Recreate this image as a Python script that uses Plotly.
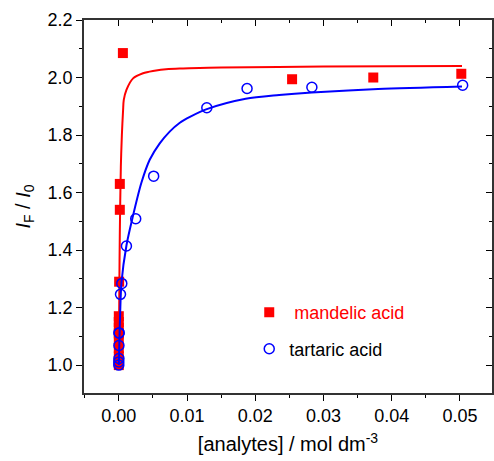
import plotly.graph_objects as go

# ---- data ----
mandelic_x = [0.0, 0.0, 0.0, 0.0, 0.0, 0.0, 0.0, 0.0, 0.00005, 0.00015, 0.00015, 0.0006, 0.0254, 0.0373, 0.0502]
mandelic_y = [1.00, 1.03, 1.06, 1.09, 1.11, 1.13, 1.15, 1.17, 1.29, 1.54, 1.63, 2.085, 1.994, 2.000, 2.013]

tartaric_x = [0.0, 0.0, 0.00002, 0.00002, 0.00004, 0.00004, 0.00025, 0.00044, 0.00112, 0.00248, 0.00511, 0.0129, 0.0188, 0.0283, 0.0504]
tartaric_y = [1.000, 1.011, 1.023, 1.068, 1.112, 1.112, 1.246, 1.284, 1.414, 1.509, 1.657, 1.895, 1.962, 1.966, 1.973]

mandelic_fit_x = [0.0, 0.00008, 0.00015, 0.0003, 0.00045, 0.00063, 0.00073, 0.00112, 0.00209, 0.00355, 0.005, 0.0073, 0.0089, 0.015, 0.03, 0.0503]
mandelic_fit_y = [1.0, 1.27, 1.46, 1.69, 1.80, 1.887, 1.922, 1.957, 1.997, 2.015, 2.023, 2.030, 2.031, 2.035, 2.038, 2.040]

tartaric_fit_x = [0.0, 0.0001, 0.0002, 0.00039, 0.00112, 0.002, 0.0033, 0.00453, 0.006, 0.00746, 0.0089, 0.0105, 0.0129, 0.0186, 0.0235, 0.0283, 0.038, 0.0503]
tartaric_fit_y = [1.0, 1.10, 1.18, 1.287, 1.416, 1.511, 1.633, 1.714, 1.771, 1.812, 1.842, 1.864, 1.890, 1.926, 1.939, 1.948, 1.960, 1.969]

x_ticks = [0.00, 0.01, 0.02, 0.03, 0.04, 0.05]
y_ticks = [1.0, 1.2, 1.4, 1.6, 1.8, 2.0, 2.2]

RED = "#ff0000"
BLUE = "#0000ff"
FONT = "Liberation Sans, Arial, sans-serif"

fig = go.Figure()
fig.add_trace(go.Scatter(
    x=mandelic_x, y=mandelic_y, mode="markers",
    marker=dict(symbol="square", size=10, color=RED),
    name="<span style='color:#ff0000'> mandelic acid</span>",
    legendgroup="m"))
fig.add_trace(go.Scatter(
    x=mandelic_fit_x, y=mandelic_fit_y, mode="lines",
    line=dict(color=RED, width=2, shape="spline", smoothing=0.8),
    showlegend=False, legendgroup="m"))
fig.add_trace(go.Scatter(
    x=tartaric_fit_x, y=tartaric_fit_y, mode="lines",
    line=dict(color=BLUE, width=2, shape="spline", smoothing=0.8),
    showlegend=False, legendgroup="t"))
fig.add_trace(go.Scatter(
    x=tartaric_x, y=tartaric_y, mode="markers",
    marker=dict(symbol="circle-open", size=10, color=BLUE, line=dict(width=1.5, color=BLUE)),
    name="tartaric acid", legendgroup="t"))

XR = [-0.0051, 0.0547]
YR = [0.903, 2.2]

fig.update_layout(
    width=494, height=461,
    margin=dict(l=84, r=2, t=20, b=68),
    paper_bgcolor="white", plot_bgcolor="white",
    font=dict(family=FONT, size=18, color="black"),
    showlegend=True,
    legend=dict(x=0.405, y=0.265, xanchor="left", yanchor="top",
                bgcolor="rgba(0,0,0,0)", font=dict(size=18, color="black"),
                traceorder="grouped", tracegroupgap=10),
    xaxis=dict(range=XR, tickvals=x_ticks, tickformat=".2f",
               ticks="outside", ticklen=6, tickwidth=1, tickcolor="black",
               minor=dict(dtick=0.005, tick0=0, ticks="outside", ticklen=3, tickcolor="black"),
               showline=True, linecolor="#333333", linewidth=1.5,
               showgrid=False, zeroline=False,
               title=dict(text="[analytes] / mol dm<sup>-3</sup>", font=dict(size=20), standoff=12),
               tickfont=dict(size=18)),
    yaxis=dict(range=YR, tickvals=y_ticks, tickformat=".1f",
               ticks="outside", ticklen=6, tickwidth=1, tickcolor="black",
               minor=dict(dtick=0.1, tick0=0, ticks="outside", ticklen=3, tickcolor="black"),
               showline=True, linecolor="#333333", linewidth=1.5,
               showgrid=False, zeroline=False,
               title=dict(text="<i>I</i><sub>F</sub> / <i>I</i><sub>0</sub>", font=dict(size=20), standoff=12),
               tickfont=dict(size=18)),
    xaxis2=dict(range=XR, overlaying="x", side="top", matches="x",
                tickvals=x_ticks, showticklabels=False,
                ticks="inside", ticklen=6, tickcolor="black",
                minor=dict(dtick=0.005, tick0=0, ticks="inside", ticklen=3, tickcolor="black"),
                showline=True, linecolor="#333333", linewidth=1.5,
                showgrid=False, zeroline=False),
    yaxis2=dict(range=YR, overlaying="y", side="right", matches="y",
                tickvals=y_ticks, showticklabels=False,
                ticks="inside", ticklen=6, tickcolor="black",
                minor=dict(dtick=0.1, tick0=0, ticks="inside", ticklen=3, tickcolor="black"),
                showline=True, linecolor="#333333", linewidth=1.5,
                showgrid=False, zeroline=False),
)

# invisible trace to activate the mirrored axes
fig.add_trace(go.Scatter(x=[XR[0]], y=[YR[0]], xaxis="x2", yaxis="y2",
                         mode="markers", marker=dict(opacity=0), showlegend=False, hoverinfo="skip"))

fig.write_html("out.html")
